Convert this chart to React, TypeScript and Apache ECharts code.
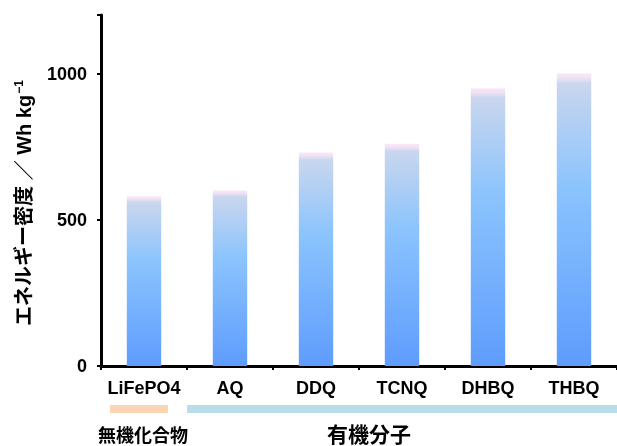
import React, { useEffect, useRef } from "react";
import * as echarts from "echarts";

const categories = ["LiFePO4", "AQ", "DDQ", "TCNQ", "DHBQ", "THBQ"];
const energyDensity = [580, 600, 730, 760, 950, 1000];
const yTicks = [0, 500, 1000];
const yAxisTitleMain = "エネルギー密度 ／ Wh kg";
const yAxisTitleSup = "−1";
const groupLabels = ["無機化合物", "有機分子"];

const FONT = "'Liberation Sans', Arial, 'Noto Sans CJK JP', sans-serif";
const CJK = "'Noto Sans CJK JP', 'Liberation Sans', sans-serif";

export default function App() {
  const ref = useRef<HTMLDivElement>(null);
  useEffect(() => {
    if (!ref.current) return;
    const chart = echarts.init(ref.current, null, { renderer: "svg" });
    const barGrad = new echarts.graphic.LinearGradient(0, 0, 0, 1, [
      { offset: 0, color: "#fde6f7" },
      { offset: 0.015, color: "#f0e2f4" },
      { offset: 0.035, color: "#c9d6ee" },
      { offset: 0.38, color: "#8cc4fd" },
      { offset: 1, color: "#5e9cfd" },
    ]);
    chart.setOption({
      animation: false,
      grid: { left: 101, top: 15, bottom: 80, right: -6, containLabel: false },
      xAxis: {
        type: "category",
        data: categories,
        axisLine: { lineStyle: { color: "#000", width: 3 } },
        axisTick: { show: true, length: 4, lineStyle: { color: "#000", width: 2 } },
        axisLabel: {
          interval: 0,
          color: "#000",
          fontFamily: FONT,
          fontWeight: "bold",
          fontSize: 18,
          margin: 13,
        },
      },
      yAxis: {
        type: "value",
        min: 0,
        max: 1200,
        interval: 500,
        axisLine: { show: true, lineStyle: { color: "#000", width: 3 } },
        axisTick: { show: true, length: 4, lineStyle: { color: "#000", width: 2 } },
        splitLine: { show: false },
        axisLabel: {
          color: "#000",
          fontFamily: FONT,
          fontWeight: "bold",
          fontSize: 18,
          margin: 14,
          formatter: (v: number) => (yTicks.includes(v) ? String(v) : ""),
        },
      },
      series: [
        {
          type: "bar",
          data: energyDensity,
          barWidth: "40%",
          itemStyle: { color: barGrad },
        },
      ],
      graphic: [
        {
          type: "text",
          x: 24,
          y: 203,
          rotation: Math.PI / 2,
          style: {
            text: `{m|${yAxisTitleMain}}{s|${yAxisTitleSup}}`,
            fill: "#000",
            align: "center",
            verticalAlign: "middle",
            rich: {
              m: { fontFamily: FONT, fontWeight: "bold", fontSize: 20, fill: "#000" },
              s: {
                fontFamily: FONT,
                fontWeight: "bold",
                fontSize: 12,
                fill: "#000",
                verticalAlign: "top",
                padding: [0, 0, 10, 1],
              },
            },
          },
        },
        {
          type: "rect",
          shape: { x: 110, y: 405, width: 58, height: 8 },
          style: { fill: "#fcd5b4" },
        },
        {
          type: "rect",
          shape: { x: 187, y: 405, width: 440, height: 8 },
          style: { fill: "#b6dde8" },
        },
        {
          type: "text",
          x: 143,
          y: 434,
          style: {
            text: groupLabels[0],
            font: `bold 18px ${CJK}`,
            lineHeight: 18,
            fill: "#000",
            align: "center",
            verticalAlign: "middle",
          },
        },
        {
          type: "text",
          x: 369,
          y: 433,
          style: {
            text: groupLabels[1],
            font: `bold 21px ${CJK}`,
            lineHeight: 21,
            fill: "#000",
            align: "center",
            verticalAlign: "middle",
          },
        },
      ],
    });
    return () => chart.dispose();
  }, []);
  return (
    <div
      ref={ref}
      style={{ position: "fixed", left: 0, top: 0, width: 617, height: 446, overflow: "hidden" }}
    />
  );
}
